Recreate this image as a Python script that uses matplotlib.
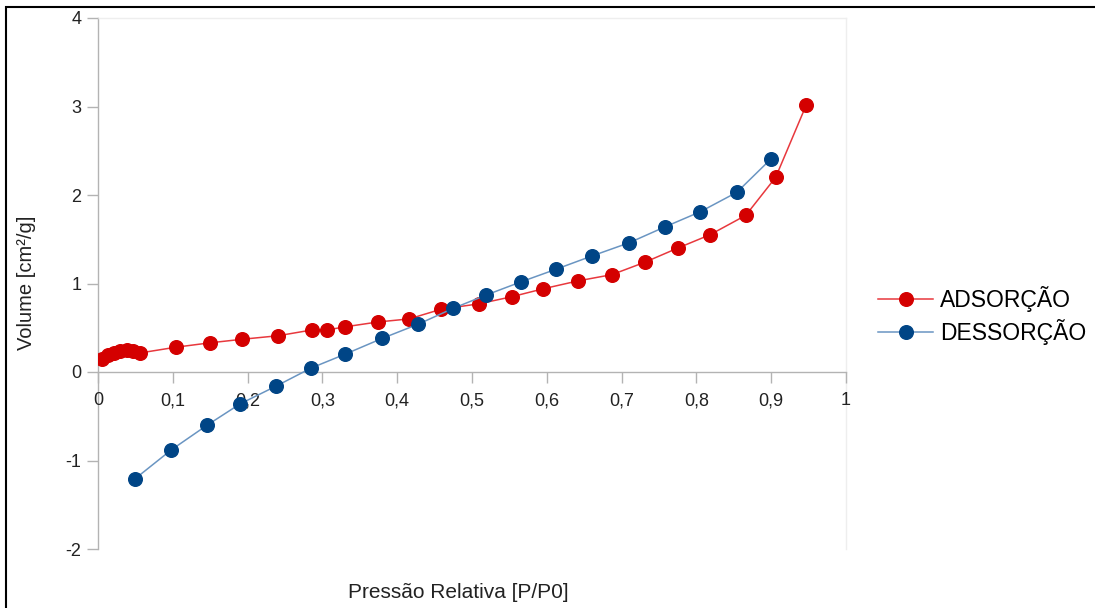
import matplotlib
matplotlib.use("Agg")
import matplotlib.pyplot as plt
from matplotlib.ticker import FuncFormatter, MultipleLocator
from matplotlib.patches import Rectangle

plt.rcParams['font.family'] = ['Liberation Sans', 'DejaVu Sans']

# adsorption branch
ads_p = [0.005, 0.013, 0.021, 0.029, 0.039, 0.047, 0.056, 0.104, 0.150, 0.193,
         0.241, 0.286, 0.306, 0.330, 0.374, 0.416, 0.459, 0.509, 0.553, 0.595,
         0.642, 0.687, 0.731, 0.775, 0.818, 0.866, 0.906, 0.947]
ads_v = [0.15, 0.19, 0.215, 0.237, 0.25, 0.237, 0.215, 0.28, 0.33, 0.37,
         0.41, 0.475, 0.475, 0.51, 0.565, 0.60, 0.71, 0.77, 0.85, 0.94,
         1.03, 1.10, 1.24, 1.40, 1.55, 1.77, 2.20, 3.02]

# desorption branch
des_p = [0.049, 0.098, 0.146, 0.190, 0.238, 0.285, 0.330, 0.380, 0.428, 0.475,
         0.519, 0.566, 0.612, 0.660, 0.710, 0.758, 0.805, 0.854, 0.900]
des_v = [-1.21, -0.88, -0.60, -0.36, -0.16, 0.045, 0.20, 0.38, 0.54, 0.72,
         0.87, 1.02, 1.16, 1.31, 1.46, 1.64, 1.81, 2.03, 2.41]

W, H = 1095, 608
fig = plt.figure(figsize=(W / 100, H / 100), dpi=100)
ax = fig.add_axes([98 / W, 1 - 549 / H, (846 - 98) / W, (549 - 18) / H])

red_m, red_l = '#d40000', '#e8383d'
blue_m, blue_l = '#004586', '#6a95c2'

ax.plot(ads_p, ads_v, color=red_l, lw=1.1, marker='o', ms=9.8,
        mfc=red_m, mec=red_m, label='ADSORÇÃO', zorder=3)
ax.plot(des_p, des_v, color=blue_l, lw=1.1, marker='o', ms=9.8,
        mfc=blue_m, mec=blue_m, label='DESSORÇÃO', zorder=3)

ax.set_xlim(0, 1)
ax.set_ylim(-2, 4)
ax.xaxis.set_major_locator(MultipleLocator(0.1))
ax.yaxis.set_major_locator(MultipleLocator(1))


def comma(v, pos):
    s = f'{v:.1f}'.rstrip('0').rstrip('.')
    return s.replace('.', ',')


ax.xaxis.set_major_formatter(FuncFormatter(comma))
ax.yaxis.set_major_formatter(FuncFormatter(lambda v, p: f'{v:.0f}'))

ax.spines['bottom'].set_position(('data', 0))
ax.spines['bottom'].set_color('#b3b3b3')
ax.spines['left'].set_color('#b3b3b3')
ax.spines['top'].set_color('#eeeeee')
ax.spines['right'].set_color('#eeeeee')
for s in ax.spines.values():
    s.set_linewidth(1.0)
    s.set_zorder(1)

ax.tick_params(axis='both', direction='out', length=8, width=1.0,
               color='#b3b3b3', labelsize=13, labelcolor='#222222')
ax.tick_params(axis='x', pad=6.5)
ax.tick_params(axis='y', pad=4)

fig.text(27 / W, 1 - 283 / H, 'Volume [cm²/g]', rotation=90,
         ha='center', va='center', fontsize=14.5, color='#222222')
fig.text(458 / W, 1 - 592 / H, 'Pressão Relativa [P/P0]',
         ha='center', va='center', fontsize=15, color='#222222')

ax.legend(loc='center left', bbox_to_anchor=(878 / W, 1 - 315.5 / H),
          bbox_transform=fig.transFigure, frameon=False, fontsize=16.5,
          handlelength=2.4, handletextpad=0.3, labelspacing=0.33,
          borderpad=0, borderaxespad=0)

# outer frame (cut at right and bottom)
fig.patches.append(Rectangle((6 / W, -0.1), 1.2, (1 - 7 / H) + 0.1,
                             transform=fig.transFigure, fill=False,
                             edgecolor='black', lw=1.5))

fig.savefig('out.png', dpi=100)
